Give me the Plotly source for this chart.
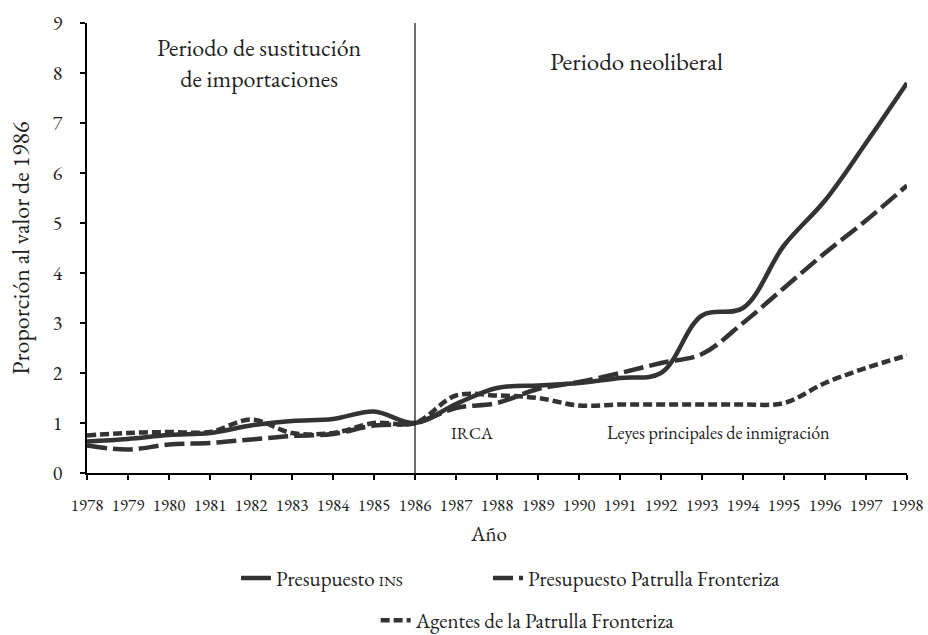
import plotly.graph_objects as go

years = list(range(1978, 1999))
ins_budget = [0.63, 0.68, 0.76, 0.80, 0.95, 1.04, 1.08, 1.23, 1.00, 1.38, 1.70, 1.75, 1.80, 1.90, 2.00, 3.15, 3.30, 4.55, 5.45, 6.60, 7.80]
patrol_budget = [0.55, 0.47, 0.57, 0.60, 0.67, 0.74, 0.78, 0.95, 1.00, 1.30, 1.40, 1.68, 1.82, 2.00, 2.20, 2.38, 3.00, 3.70, 4.40, 5.05, 5.75]
patrol_agents = [0.75, 0.80, 0.82, 0.82, 1.07, 0.80, 0.80, 1.00, 1.00, 1.55, 1.55, 1.50, 1.35, 1.37, 1.37, 1.37, 1.37, 1.40, 1.80, 2.10, 2.35]
y_ticks = list(range(0, 10))

FONT = "EB Garamond, Liberation Serif, serif"
LC = "#333333"
TC = "#222222"

fig = go.Figure()
fig.add_trace(go.Scatter(x=years, y=ins_budget, mode="lines",
                         name="Presupuesto <span style='font-size:15px'>INS</span>",
                         line=dict(color=LC, width=4.5, shape="spline", smoothing=1.0),
                         legend="legend"))
fig.add_trace(go.Scatter(x=years, y=patrol_budget, mode="lines",
                         name="Presupuesto Patrulla Fronteriza",
                         line=dict(color=LC, width=4.5, dash="20px,6px", shape="spline", smoothing=1.0),
                         legend="legend2"))
fig.add_trace(go.Scatter(x=years, y=patrol_agents, mode="lines",
                         name="Agentes de la Patrulla Fronteriza",
                         line=dict(color=LC, width=4.5, dash="9px,4px", shape="spline", smoothing=1.0),
                         legend="legend3"))

fig.add_shape(type="line", x0=1986, x1=1986, y0=0, y1=9.05, xref="x", yref="y",
              line=dict(color=TC, width=1.3))

annos = [
    dict(x=1982.2, y=8.2, text="Periodo de sustitución<br>de importaciones", size=24),
    dict(x=1991.4, y=8.25, text="Periodo neoliberal", size=25),
    dict(x=1987.4, y=0.81, text="IRCA", size=17),
    dict(x=1993.4, y=0.81, text="Leyes principales de inmigración", size=18),
]
for a in annos:
    fig.add_annotation(x=a["x"], y=a["y"], xref="x", yref="y", text=a["text"],
                       showarrow=False, font=dict(family=FONT, size=a["size"], color=TC))

fig.add_annotation(x=0.49, y=-0.135, xref="paper", yref="paper", text="Año", showarrow=False,
                   xanchor="center", yanchor="middle",
                   font=dict(family=FONT, size=21, color=TC))
fig.add_annotation(x=-0.082, y=0.5, xref="paper", yref="paper", text="Proporción al valor de 1986",
                   showarrow=False, textangle=-90, xanchor="center", yanchor="middle",
                   font=dict(family=FONT, size=24, color=TC))

leg = dict(orientation="h", yanchor="middle", xanchor="left", bgcolor="rgba(0,0,0,0)",
           font=dict(family=FONT, size=21, color=TC))
fig.update_layout(
    width=928, height=635,
    margin=dict(l=87, r=21, t=23, b=162, autoexpand=False),
    plot_bgcolor="white", paper_bgcolor="white",
    font=dict(family=FONT, color=TC),
    showlegend=True,
    legend=dict(leg, x=0.1817, y=-0.234),
    legend2=dict(leg, x=0.489, y=-0.234),
    legend3=dict(leg, x=0.352, y=-0.328),
)
fig.update_xaxes(range=[1978, 1998], tickmode="array", tickvals=years,
                 ticktext=[str(y) for y in years], showgrid=False, zeroline=False,
                 showline=True, linecolor="black", linewidth=1.5, ticks="outside",
                 ticklen=5, tickwidth=1.5, tickcolor="black", ticklabeloverflow="allow",
                 tickfont=dict(family=FONT, size=17, color=TC), ticklabelstandoff=11)
fig.update_yaxes(range=[0, 9], tickmode="array", tickvals=y_ticks,
                 showgrid=False, zeroline=False,
                 showline=True, linecolor="black", linewidth=1.5, ticks="outside",
                 ticklen=5, tickwidth=1.5, tickcolor="black",
                 tickfont=dict(family=FONT, size=20, color=TC), ticklabelstandoff=14)

fig.write_html("out.html", config={"displayModeBar": False},
               post_script="document.body.style.margin='0px';")
